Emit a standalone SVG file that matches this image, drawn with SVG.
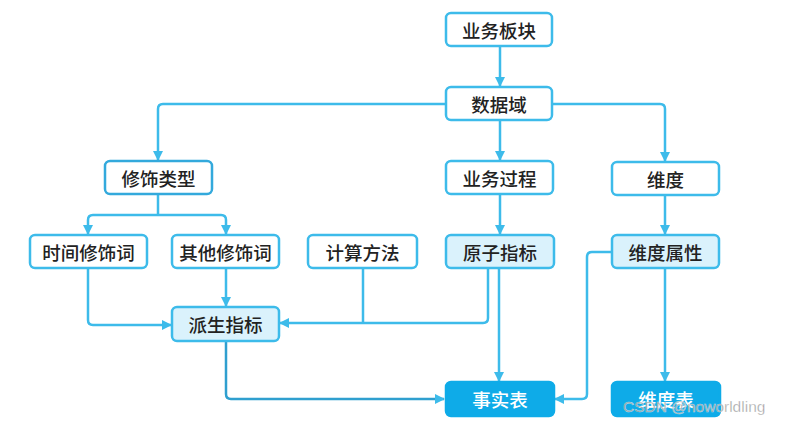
<svg xmlns="http://www.w3.org/2000/svg" width="785" height="426" viewBox="0 0 785 426">
<defs>
<marker id="ah" viewBox="0 0 10 10" refX="9" refY="5" markerWidth="10" markerHeight="10" markerUnits="userSpaceOnUse" orient="auto">
<path d="M0,0 L10,5 L0,10 Z" fill="#3dbbea"/>
</marker>
<marker id="ahd" viewBox="0 0 10 10" refX="9" refY="5" markerWidth="10" markerHeight="10" markerUnits="userSpaceOnUse" orient="auto">
<path d="M0,0 L10,5 L0,10 Z" fill="#3dbbea"/>
</marker>
<style>
.box{fill:#ffffff;stroke:#3dbbea;stroke-width:2.5}
.dk{stroke:#33a9dc}
.lt{fill:#daf2fc}
.solid{fill:#0eabe8;stroke:#0eabe8}
.t{font-family:"Noto Sans CJK SC","Noto Sans",sans-serif;font-size:18.5px;font-weight:500;fill:#222;text-anchor:middle;dominant-baseline:central}
.w{fill:#ffffff}
.c{fill:none;stroke:#3dbbea;stroke-width:2.5;stroke-linejoin:round}
.cd{stroke:#2f9fcf}
.wm{font-family:"Liberation Sans","DejaVu Sans",sans-serif;font-size:15.5px;fill:#8a8a8a;fill-opacity:0.85;stroke:#ffffff;stroke-width:0.6;stroke-opacity:0.6}
</style>
</defs>
<g id="connectors">
<path class="c" d="M500,47 V86" marker-end="url(#ah)"/>
<path class="c" d="M446,104 H163 Q158,104 158,109 V160" marker-end="url(#ah)"/>
<path class="c" d="M500,120 V160" marker-end="url(#ah)"/>
<path class="c" d="M553,104 H660 Q665,104 665,109 V161" marker-end="url(#ah)"/>
<path class="c" d="M158,194 V215"/>
<path class="c" d="M93,215 H221 Q226,215 226,220 V234" marker-end="url(#ah)"/>
<path class="c" d="M93,215 Q88,215 88,220 V234" marker-end="url(#ah)"/>
<path class="c" d="M500,194 V234" marker-end="url(#ah)"/>
<path class="c" d="M665,195 V234" marker-end="url(#ah)"/>
<path class="c" d="M88,268 V320 Q88,325 93,325 H171" marker-end="url(#ah)"/>
<path class="c" d="M226,268 V306" marker-end="url(#ah)"/>
<path class="c" d="M363,268 V323"/>
<path class="c" d="M488,268 V318 Q488,323 483,323 H280" marker-end="url(#ah)"/>
<path class="c" d="M499,268 V381" marker-end="url(#ah)"/>
<path class="c cd" d="M226,342 V394 Q226,399 231,399 H444" marker-end="url(#ahd)"/>
<path class="c" d="M612,252 H592 Q587,252 587,257 V394 Q587,399 582,399 H555" marker-end="url(#ah)"/>
<path class="c" d="M665,268 V381" marker-end="url(#ah)"/>
</g>
<g id="n-yewubankuai"><rect class="box" x="446" y="13" width="106" height="33" rx="5"/><text class="t" x="499" y="29.5">业务板块</text></g>
<g id="n-shujuyu"><rect class="box" x="446" y="87" width="106" height="33" rx="5"/><text class="t" x="499" y="103.5">数据域</text></g>
<g id="n-xiushileixing"><rect class="box dk" x="105" y="161" width="107" height="33" rx="5"/><text class="t" x="158.5" y="177.5">修饰类型</text></g>
<g id="n-yewuguocheng"><rect class="box" x="446" y="161" width="107" height="33" rx="5"/><text class="t" x="499.5" y="177.5">业务过程</text></g>
<g id="n-weidu"><rect class="box" x="612" y="162" width="107" height="33" rx="5"/><text class="t" x="665.5" y="178.5">维度</text></g>
<g id="n-shijianxiushici"><rect class="box" x="30" y="235" width="117" height="33" rx="5"/><text class="t" x="88.5" y="251.5">时间修饰词</text></g>
<g id="n-qitaxiushici"><rect class="box" x="172" y="235" width="107" height="33" rx="5"/><text class="t" x="225.5" y="251.5">其他修饰词</text></g>
<g id="n-jisuanfangfa"><rect class="box" x="308" y="235" width="109" height="33" rx="5"/><text class="t" x="362.5" y="251.5">计算方法</text></g>
<g id="n-yuanzizhibiao"><rect class="box lt" x="446" y="235" width="108" height="33" rx="5"/><text class="t" x="500" y="251.5">原子指标</text></g>
<g id="n-weidushuxing"><rect class="box lt" x="612" y="235" width="107" height="33" rx="5"/><text class="t" x="665.5" y="251.5">维度属性</text></g>
<g id="n-paishengzhibiao"><rect class="box lt" x="172" y="307" width="107" height="34" rx="5"/><text class="t" x="225.5" y="324">派生指标</text></g>
<g id="n-shishibiao"><rect class="box solid" x="446" y="382" width="108" height="34" rx="5"/><text class="t w" x="500" y="399">事实表</text></g>
<g id="n-weidubiao"><rect class="box solid" x="612" y="382" width="108" height="34" rx="5"/><text class="t w" x="666" y="399">维度表</text></g>
<text class="wm" x="623" y="412">CSDN @noworldling</text>
</svg>
